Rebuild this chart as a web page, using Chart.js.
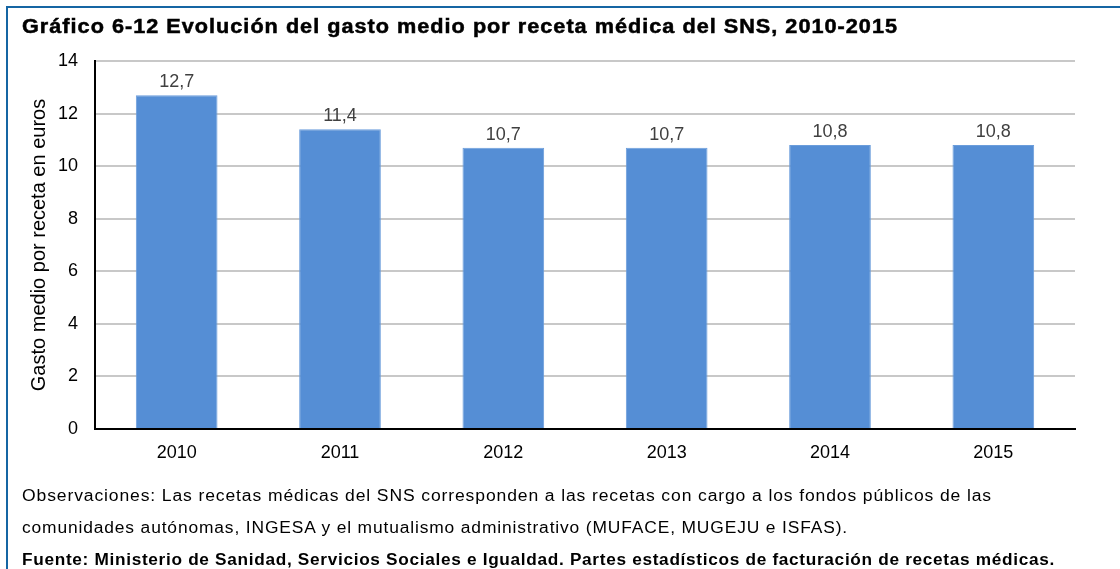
<!DOCTYPE html>
<html>
<head>
<meta charset="utf-8">
<script src="https://cdn.jsdelivr.net/npm/chart.js@4"></script>
<style>
  html, body { margin: 0; padding: 0; background: #fff; }
  body { width: 1120px; height: 569px; position: relative; overflow: hidden; font-family: "Liberation Sans", Arial, sans-serif; }
  #frame { position: absolute; left: 6px; top: 6px; right: -4px; bottom: -4px; border-left: 2px solid #1565a3; border-top: 2px solid #1565a3; }
  .line { position: absolute; left: 22px; white-space: nowrap; color: #000; transform-origin: 0 50%; }
  #title { top: 15px; font-size: 20px; font-weight: bold; -webkit-text-stroke: 0.5px #000; }
  .note { font-size: 16px; line-height: 20px; }
  #wrap { position: absolute; left: 0; top: 0; width: 1120px; height: 569px; }
</style>
</head>
<body>
<div id="frame"></div>
<div id="wrap"><canvas id="myChart" width="1120" height="569"></canvas></div>
<div class="line" id="title" data-w="876">Gráfico 6-12 Evolución del gasto medio por receta médica del SNS, 2010-2015</div>
<div class="line note" style="top:486px" data-w="970">Observaciones: Las recetas médicas del SNS corresponden a las recetas con cargo a los fondos públicos de las</div>
<div class="line note" style="top:518px" data-w="826">comunidades autónomas, INGESA y el mutualismo administrativo (MUFACE, MUGEJU e ISFAS).</div>
<div class="line note" style="top:550px; font-weight:bold" data-w="1033">Fuente: Ministerio de Sanidad, Servicios Sociales e Igualdad. Partes estadísticos de facturación de recetas médicas.</div>
<script>
const years = ['2010', '2011', '2012', '2013', '2014', '2015'];
const gastoMedio = [12.7, 11.4, 10.7, 10.7, 10.8, 10.8];
const yTicks = [0, 2, 4, 6, 8, 10, 12, 14];

const FONT = '"Liberation Sans", Arial, sans-serif';

// the original font is wider than Arial: half tracking, half horizontal stretch
function fitLines() {
  document.querySelectorAll('.line').forEach(el => {
    const target = +el.dataset.w;
    const n = el.textContent.length - 1;
    const w = el.getBoundingClientRect().width;
    const mid = (w + target) / 2;
    el.style.letterSpacing = ((mid - w) / n) + 'px';
    const w2 = el.getBoundingClientRect().width;
    el.style.transform = 'scaleX(' + (target / w2) + ')';
  });
}

const valueLabels = {
  id: 'valueLabels',
  afterDatasetsDraw(chart) {
    const ctx = chart.ctx;
    ctx.save();
    ctx.font = '18px ' + FONT;
    ctx.fillStyle = '#404040';
    ctx.textAlign = 'center';
    ctx.textBaseline = 'middle';
    chart.getDatasetMeta(0).data.forEach((bar, i) => {
      ctx.fillText(gastoMedio[i].toFixed(1).replace('.', ','), bar.x, bar.y - 13);
    });
    ctx.restore();
  }
};

function initChart() {
  fitLines();
  const ctx = document.getElementById('myChart').getContext('2d');
  new Chart(ctx, {
    type: 'bar',
    data: {
      labels: years,
      datasets: [{
        data: gastoMedio,
        backgroundColor: '#558ed5',
        borderColor: '#6b9ddb',
        borderWidth: 1,
        categoryPercentage: 1,
        barPercentage: 0.5
      }]
    },
    options: {
      responsive: false,
      animation: false,
      layout: { padding: { left: 0, top: 61, right: 45, bottom: 100 } },
      plugins: {
        legend: { display: false },
        tooltip: { enabled: false }
      },
      scales: {
        x: {
          grid: { display: false },
          border: { color: '#000', width: 2 },
          ticks: { color: '#000', padding: 5, font: { size: 18, family: FONT } },
          afterFit(scale) { scale.height = 40; }
        },
        y: {
          min: 0,
          max: 14,
          afterBuildTicks(scale) { scale.ticks = yTicks.map(v => ({ value: v })); },
          grid: { color: '#c8c8c8', lineWidth: 2, drawTicks: false },
          border: { color: '#000', width: 2 },
          ticks: { color: '#000', padding: 17, font: { size: 18, family: FONT } },
          title: {
            display: true,
            text: 'Gasto medio por receta en euros',
            color: '#000',
            padding: { top: 27, bottom: 0 },
            font: { size: 20, family: FONT }
          },
          afterFit(scale) { scale.width = 95; }
        }
      }
    },
    plugins: [valueLabels]
  });
}

window.addEventListener('load', initChart);
</script>
</body>
</html>
